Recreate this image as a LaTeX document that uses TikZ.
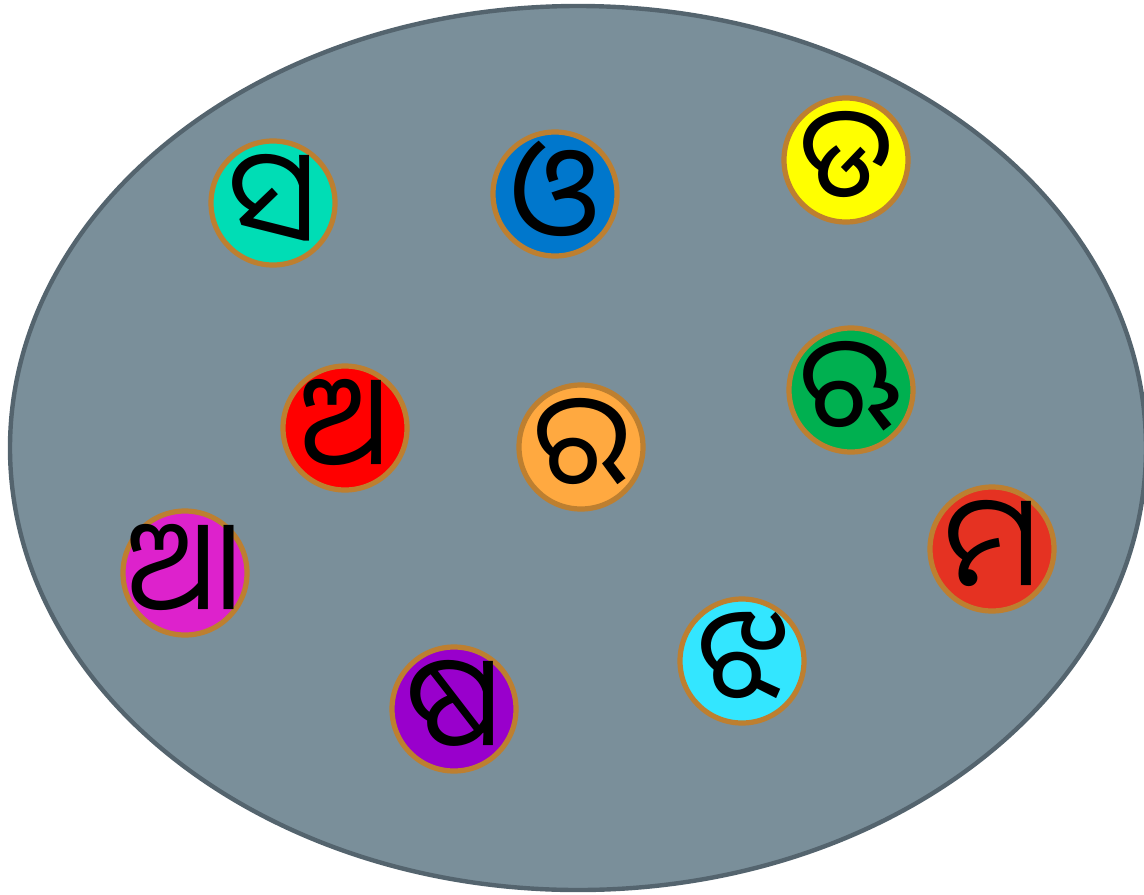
\documentclass[tikz,border=0pt]{standalone}
\usepackage{fontspec}
\usetikzlibrary{shapes.geometric}
\newfontfamily\odia[Script=Oriya]{Noto Sans Oriya UI}
\definecolor{bgfill}{HTML}{7A8F9A}
\definecolor{bgline}{HTML}{54646E}
\definecolor{ring}{HTML}{BD7F30}
\definecolor{cteal}{HTML}{00DDB5}
\definecolor{cblue}{HTML}{0077CC}
\definecolor{cyellow}{HTML}{FFFF00}
\definecolor{cgreen}{HTML}{00B050}
\definecolor{cred}{HTML}{FF0000}
\definecolor{corange}{HTML}{FFA940}
\definecolor{cmagenta}{HTML}{DD22CC}
\definecolor{credor}{HTML}{E53222}
\definecolor{ccyan}{HTML}{33E6FF}
\definecolor{cpurple}{HTML}{9900CC}
\tikzset{
  disc/.style={circle, draw=ring, line width=2.6pt, minimum size=62pt, inner sep=0pt},
  glyph/.style={inner sep=0pt, font=\odia\fontsize{64}{64}\selectfont, text=black}
}
\begin{document}
\begin{tikzpicture}[x=0.5pt,y=-0.5pt]
\useasboundingbox (0,0) rectangle (1144,894);
\node[ellipse, draw=bgline, line width=2.2pt, fill=bgfill, minimum width=568pt, minimum height=442pt, inner sep=0pt] (set) at (578,448) {};
\node[disc, fill=cteal]    (sa)  at (273,203) {};
\node[disc, fill=cblue]    (o)   at (555,194) {};
\node[disc, fill=cyellow]  (dda) at (846,160) {};
\node[disc, fill=cgreen]   (ri)  at (851,390) {};
\node[disc, fill=cred]     (a)   at (345,428) {};
\node[disc, fill=corange]  (ra)  at (581,447) {};
\node[disc, fill=cmagenta] (aa)  at (185,573) {};
\node[disc, fill=credor]   (ma)  at (992,549) {};
\node[disc, fill=ccyan]    (jha) at (742,661) {};
\node[disc, fill=cpurple]  (ssa) at (454,709) {};
\node[glyph] (sa-t)  at (sa.center)  {ସ};
\node[glyph] (o-t)   at (o.center)   {ଓ};
\node[glyph] (dda-t) at (dda.center) {ଡ};
\node[glyph] (ri-t)  at (ri.center)  {ଋ};
\node[glyph] (a-t)   at (a.center)   {ଅ};
\node[glyph] (ra-t)  at (ra.center)  {ର};
\node[glyph] (aa-t)  at (aa.center)  {ଆ};
\node[glyph] (ma-t)  at (ma.center)  {ମ};
\node[glyph] (jha-t) at (jha.center) {ଝ};
\node[glyph] (ssa-t) at (ssa.center) {ଷ};
\end{tikzpicture}
\end{document}
